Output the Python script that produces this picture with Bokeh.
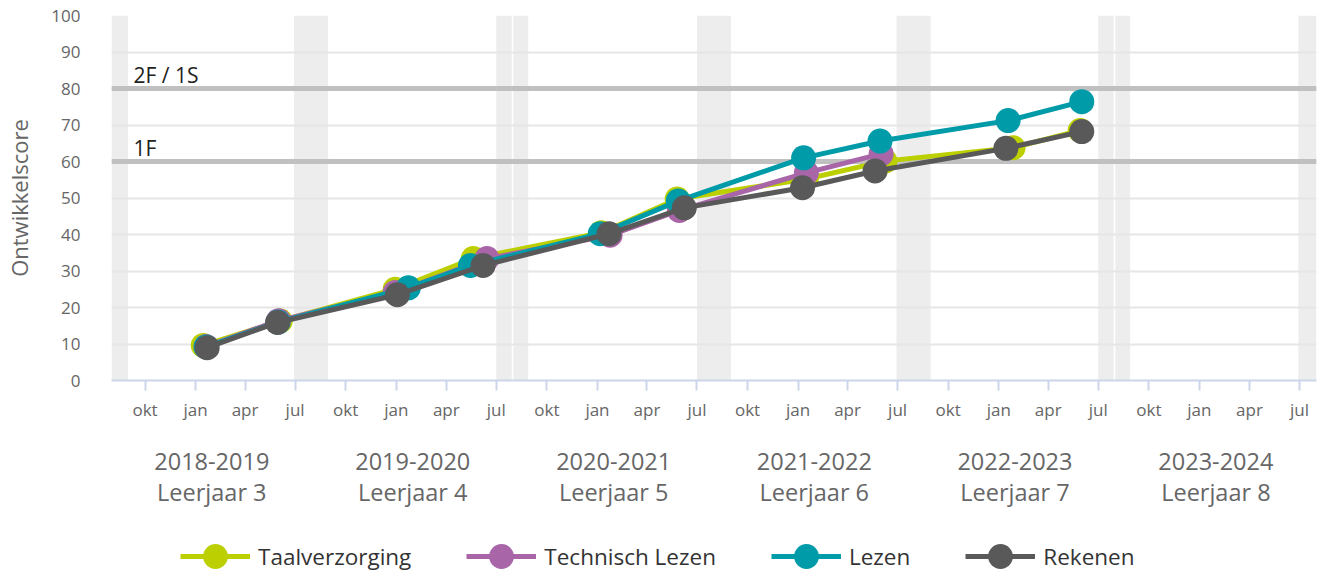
import pandas as pd
from bokeh.plotting import figure
from bokeh.layouts import column
from bokeh.models import (Range1d, FixedTicker, LinearAxis, CustomJSTickFormatter,
                          Legend, LegendItem, Label)
from bokeh.embed import file_html
from bokeh.resources import INLINE

# ---------------- data ----------------
series_names = ["Taalverzorging", "Technisch Lezen", "Lezen", "Rekenen"]
series_colors = ["#bccf00", "#a865a8", "#009ba8", "#595959"]

taal_dates = ["2019-01-15", "2019-06-04", "2019-12-30", "2020-05-20", "2021-01-08",
              "2021-05-26", "2022-01-16", "2022-06-08", "2023-01-27", "2023-05-29"]
taal_vals = [9.6, 16.3, 25.0, 33.4, 40.5, 49.7, 55.2, 60.1, 63.8, 68.5]

tech_dates = ["2019-01-20", "2019-06-01", "2019-12-30", "2020-06-14", "2021-01-24",
              "2021-05-30", "2022-01-16", "2022-06-01"]
tech_vals = [9.3, 16.4, 24.1, 33.4, 39.8, 46.6, 56.9, 62.1]

lezen_dates = ["2019-01-20", "2019-05-31", "2020-01-23", "2020-05-15", "2021-01-06",
               "2021-05-28", "2022-01-11", "2022-05-30", "2023-01-18", "2023-06-01"]
lezen_vals = [9.2, 16.0, 25.4, 31.5, 40.2, 49.2, 61.0, 65.6, 71.2, 76.4]

reken_dates = ["2019-01-22", "2019-05-30", "2020-01-03", "2020-06-07", "2021-01-22",
               "2021-06-08", "2022-01-09", "2022-05-21", "2023-01-14", "2023-06-01"]
reken_vals = [9.0, 15.9, 23.5, 31.5, 40.2, 47.3, 52.8, 57.4, 63.6, 68.2]

holiday_start = ["2018-08-01", "2019-06-29", "2020-07-01", "2020-08-01", "2021-07-01",
                 "2022-06-29", "2023-07-01", "2023-08-01", "2024-06-29"]
holiday_end = ["2018-08-31", "2019-08-30", "2020-07-29", "2020-08-28", "2021-09-01",
               "2022-08-30", "2023-07-29", "2023-08-28", "2024-08-01"]

thresholds = [80, 60]
threshold_labels = ["2F / 1S", "1F"]

school_years = ["2018-2019", "2019-2020", "2020-2021", "2021-2022", "2022-2023", "2023-2024"]
leerjaren = ["Leerjaar 3", "Leerjaar 4", "Leerjaar 5", "Leerjaar 6", "Leerjaar 7", "Leerjaar 8"]
month_names = ["jan", "feb", "mrt", "apr", "mei", "jun", "jul", "aug", "sep", "okt", "nov", "dec"]
y_ticks = [0, 10, 20, 30, 40, 50, 60, 70, 80, 90, 100]

x_start = "2018-08-01"
x_end = "2024-08-01"

# ---------------- helpers ----------------
FONT = "Open Sans"


def ms(d):
    return pd.Timestamp(d).value // 10**6


month_ticks = []
for yr in range(2018, 2025):
    for mo in (1, 4, 7, 10):
        t = pd.Timestamp(year=yr, month=mo, day=1)
        if pd.Timestamp(x_start) < t < pd.Timestamp(x_end):
            month_ticks.append(ms(t))

year_mids = []
for i in range(len(school_years)):
    a = ms(pd.Timestamp(x_start) + pd.DateOffset(years=i))
    b = ms(pd.Timestamp(x_start) + pd.DateOffset(years=i + 1))
    year_mids.append((a + b) / 2)
year_labels = [f"{s}\n{l}" for s, l in zip(school_years, leerjaren)]

# ---------------- main figure ----------------
p = figure(width=1325, height=510, output_backend="svg", toolbar_location=None,
           x_axis_type="datetime",
           x_range=Range1d(ms(x_start), ms(x_end)), y_range=Range1d(0, 100),
           min_border_left=111, min_border_right=9, min_border_top=15, min_border_bottom=130)
p.outline_line_color = None
p.background_fill_color = "white"
p.xgrid.visible = False
p.ygrid.ticker = FixedTicker(ticks=y_ticks)
p.ygrid.grid_line_color = "#e6e6e6"
p.ygrid.grid_line_width = 2

# holiday bands
p.quad(left=pd.to_datetime(holiday_start), right=pd.to_datetime(holiday_end),
       bottom=0, top=100, fill_color="#ededed", line_color=None, level="underlay")

# threshold lines
p.hspan(y=thresholds, line_width=5, line_color="#c0c0c0")
for thr, txt in zip(thresholds, threshold_labels):
    p.add_layout(Label(x=ms(x_start), y=thr, x_offset=22, y_offset=14, text=txt,
                       text_font=FONT, text_font_size="21px", text_color="#222222",
                       text_baseline="alphabetic"))

# series
all_dates = [taal_dates, tech_dates, lezen_dates, reken_dates]
all_vals = [taal_vals, tech_vals, lezen_vals, reken_vals]
for name, col, ds, vs in zip(series_names, series_colors, all_dates, all_vals):
    xs = pd.to_datetime(ds)
    p.line(xs, vs, line_width=5, line_color=col)
    p.scatter(xs, vs, size=25, fill_color=col, line_color=None)

# y axis
ya = p.yaxis[0]
ya.ticker = FixedTicker(ticks=y_ticks)
ya.axis_line_color = None
ya.major_tick_line_color = None
ya.major_tick_out = 0
ya.major_tick_in = 0
ya.minor_tick_line_color = None
ya.minor_tick_out = 0
ya.major_label_standoff = 31
ya.major_label_text_font = FONT
ya.major_label_text_font_size = "17px"
ya.major_label_text_color = "#666666"
ya.axis_label = "Ontwikkelscore"
ya.axis_label_text_font = FONT
ya.axis_label_text_font_size = "22px"
ya.axis_label_text_font_style = "normal"
ya.axis_label_text_color = "#666666"
ya.axis_label_standoff = 14

# x axis (months)
xa = p.xaxis[0]
xa.ticker = FixedTicker(ticks=month_ticks)
xa.formatter = CustomJSTickFormatter(args=dict(names=month_names),
                                     code="return names[new Date(tick).getUTCMonth()];")
xa.axis_line_color = "#ccd6eb"
xa.axis_line_width = 2
xa.major_tick_line_color = "#ccd6eb"
xa.major_tick_line_width = 2
xa.major_tick_out = 10
xa.major_tick_in = 0
xa.minor_tick_line_color = None
xa.minor_tick_out = 0
xa.major_label_standoff = 7
xa.major_label_text_font = FONT
xa.major_label_text_font_size = "17px"
xa.major_label_text_color = "#666666"

# x axis (school years)
yr_axis = LinearAxis(ticker=FixedTicker(ticks=year_mids),
                     formatter=CustomJSTickFormatter(
                         args=dict(mids=year_mids, labels=year_labels),
                         code="const i = mids.findIndex(m => Math.abs(m - tick) < 1000); return i >= 0 ? labels[i] : '';"))
yr_axis.axis_line_color = None
yr_axis.major_tick_line_color = None
yr_axis.major_tick_out = 0
yr_axis.major_tick_in = 0
yr_axis.minor_tick_line_color = None
yr_axis.minor_tick_out = 0
yr_axis.major_label_standoff = 21
yr_axis.major_label_text_font = FONT
yr_axis.major_label_text_font_size = "23.5px"
yr_axis.major_label_text_color = "#666666"
yr_axis.major_label_text_line_height = 0.97
p.add_layout(yr_axis, "below")

# ---------------- legend strip ----------------
lp = figure(width=1325, height=65, output_backend="svg", toolbar_location=None,
            x_range=Range1d(0, 1), y_range=Range1d(0, 1), min_border=0)
lp.outline_line_color = None
lp.axis.visible = False
lp.grid.visible = False
nan = float("nan")
items = []
for name, col in zip(series_names, series_colors):
    lr = lp.line(x=[nan], y=[nan], line_width=5, line_color=col)
    sr = lp.scatter(x=[nan], y=[nan], size=25, fill_color=col, line_color=None)
    items.append(LegendItem(label=name, renderers=[lr, sr]))

legend = Legend(items=items, location=(69, -12), orientation="horizontal",
                glyph_width=70, glyph_height=62, label_standoff=8, spacing=55,
                padding=0, margin=0, border_line_color=None, background_fill_alpha=0,
                label_text_font=FONT, label_text_font_size="22.5px", label_text_color="#333333")
lp.add_layout(legend, "center")

layout = column(p, lp, spacing=0)
open("out.html", "w").write(file_html(layout, INLINE))
